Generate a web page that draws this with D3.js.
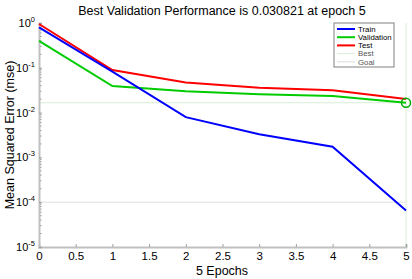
<!DOCTYPE html>
<html>
<head>
<meta charset="utf-8">
<script src="https://cdn.jsdelivr.net/npm/d3@7"></script>
<style>
  body { margin: 0; background: #fff; }
  svg { display: block; font-family: "Liberation Sans", Arial, sans-serif; }
  svg text { font-family: "Liberation Sans", Arial, sans-serif; }
</style>
</head>
<body>
<svg id="chart" width="412" height="279"></svg>
<script>
(function () {
  'use strict';

  var epochs = [0, 1, 2, 3, 4, 5];
  var train = [0.80, 0.082, 0.0079, 0.0033, 0.00173, 0.000065];
  var validation = [0.40, 0.039, 0.030, 0.0257, 0.0234, 0.0166];
  var test = [0.95, 0.089, 0.047, 0.036, 0.0315, 0.020];
  var bestEpoch = 5;
  var bestValue = 0.0166;
  var goal = 1e-4;
  var xTicks = [0, 0.5, 1, 1.5, 2, 2.5, 3, 3.5, 4, 4.5, 5];
  var yTicks = [1e0, 1e-1, 1e-2, 1e-3, 1e-4, 1e-5];
  var legendItems = ['Train', 'Validation', 'Test', 'Best', 'Goal'];
  var legendColors = ['#0000ff', '#00cc00', '#ff0000', '#d8ecd8', '#dcdcdc'];

  var svg = d3.select('#chart');
  var m = { left: 39, right: 6, top: 23, bottom: 32 };
  var W = 412, H = 279;

  var x = d3.scaleLinear().domain([0, 5]).range([m.left, W - m.right]);
  var y = d3.scaleLog().domain([1e-5, 1]).range([H - m.bottom, m.top]);

  // best / goal reference lines
  svg.append('line')
    .attr('x1', x(0)).attr('x2', x(5))
    .attr('y1', y(bestValue)).attr('y2', y(bestValue))
    .attr('stroke', '#d8ecd8').attr('stroke-width', 1);
  svg.append('line')
    .attr('x1', x(bestEpoch)).attr('x2', x(bestEpoch))
    .attr('y1', y(1)).attr('y2', y(1e-5))
    .attr('stroke', '#d8ecd8').attr('stroke-width', 1);
  svg.append('line')
    .attr('x1', x(0)).attr('x2', x(5))
    .attr('y1', y(goal)).attr('y2', y(goal))
    .attr('stroke', '#e0e0e0').attr('stroke-width', 1);

  // axes
  var xAxis = d3.axisBottom(x).tickValues(xTicks).tickSize(-3).tickPadding(5)
    .tickFormat(function (d) { return d; });
  var gx = svg.append('g').attr('transform', 'translate(0,' + (H - m.bottom) + ')').call(xAxis);
  gx.select('.domain').attr('stroke', '#c0c0c0').attr('stroke-width', 2);
  gx.selectAll('.tick line').attr('stroke', '#a0a0a0');
  gx.selectAll('text').attr('fill', '#000').style('font-size', '11.5px');

  var minor = [];
  for (var e = -5; e < 0; e++) {
    for (var k = 2; k <= 9; k++) minor.push(k * Math.pow(10, e));
  }
  var gy = svg.append('g').attr('transform', 'translate(' + m.left + ',0)');
  gy.call(d3.axisLeft(y).tickValues(yTicks).tickSize(-3).tickFormat(''));
  gy.select('.domain').attr('stroke', '#c0c0c0').attr('stroke-width', 2);
  gy.selectAll('.tick line').attr('stroke', '#a0a0a0');
  gy.selectAll('.minor').data(minor).enter().append('line')
    .attr('class', 'minor')
    .attr('x1', 1).attr('x2', 2.5)
    .attr('y1', function (d) { return y(d); }).attr('y2', function (d) { return y(d); })
    .attr('stroke', '#a0a0a0');

  var ylab = gy.selectAll('.ylab').data(yTicks).enter().append('text')
    .attr('class', 'ylab')
    .attr('x', -4).attr('y', function (d) { return y(d) + 4; })
    .attr('fill', '#000')
    .attr('text-anchor', 'end').style('font-size', '11px');
  ylab.append('tspan').text('10');
  ylab.append('tspan').attr('dy', -5).style('font-size', '7.5px')
    .text(function (d) { return Math.round(Math.log10(d)); });

  // series
  var line = d3.line().x(function (d, i) { return x(epochs[i]); }).y(function (d) { return y(d); });
  [[validation, '#00cc00'], [test, '#ff0000'], [train, '#0000ff']].forEach(function (s) {
    svg.append('path').datum(s[0]).attr('d', line)
      .attr('fill', 'none').attr('stroke', s[1]).attr('stroke-width', 2);
  });

  svg.append('circle')
    .attr('cx', x(bestEpoch)).attr('cy', y(bestValue)).attr('r', 4.5)
    .attr('fill', 'none').attr('stroke', '#00aa00').attr('stroke-width', 1.5);

  // legend
  var lg = svg.append('g').attr('transform', 'translate(334,23)');
  lg.append('rect').attr('width', 60).attr('height', 44)
    .attr('fill', '#fff').attr('stroke', '#808080').attr('stroke-width', 1);
  legendItems.forEach(function (name, i) {
    var yy = 6 + i * 8.2;
    lg.append('line').attr('x1', 3).attr('x2', 21).attr('y1', yy).attr('y2', yy)
      .attr('stroke', legendColors[i]).attr('stroke-width', i < 3 ? 2 : 1);
    lg.append('text').attr('x', 24).attr('y', yy + 2.8).style('font-size', '7.8px')
      .attr('fill', i < 3 ? '#000' : '#555').text(name);
  });

  // titles
  svg.append('text').attr('x', 222).attr('y', 15).attr('text-anchor', 'middle')
    .style('font-size', '12.5px').text('Best Validation Performance is 0.030821 at epoch 5');
  svg.append('text').attr('x', 222).attr('y', 275).attr('text-anchor', 'middle')
    .style('font-size', '12.5px').text('5 Epochs');
  svg.append('text').attr('transform', 'translate(14,' + (m.top + (H - m.bottom - m.top) / 2) + ') rotate(-90)')
    .attr('text-anchor', 'middle').style('font-size', '12.5px').text('Mean Squared Error (mse)');
})();
</script>
</body>
</html>
